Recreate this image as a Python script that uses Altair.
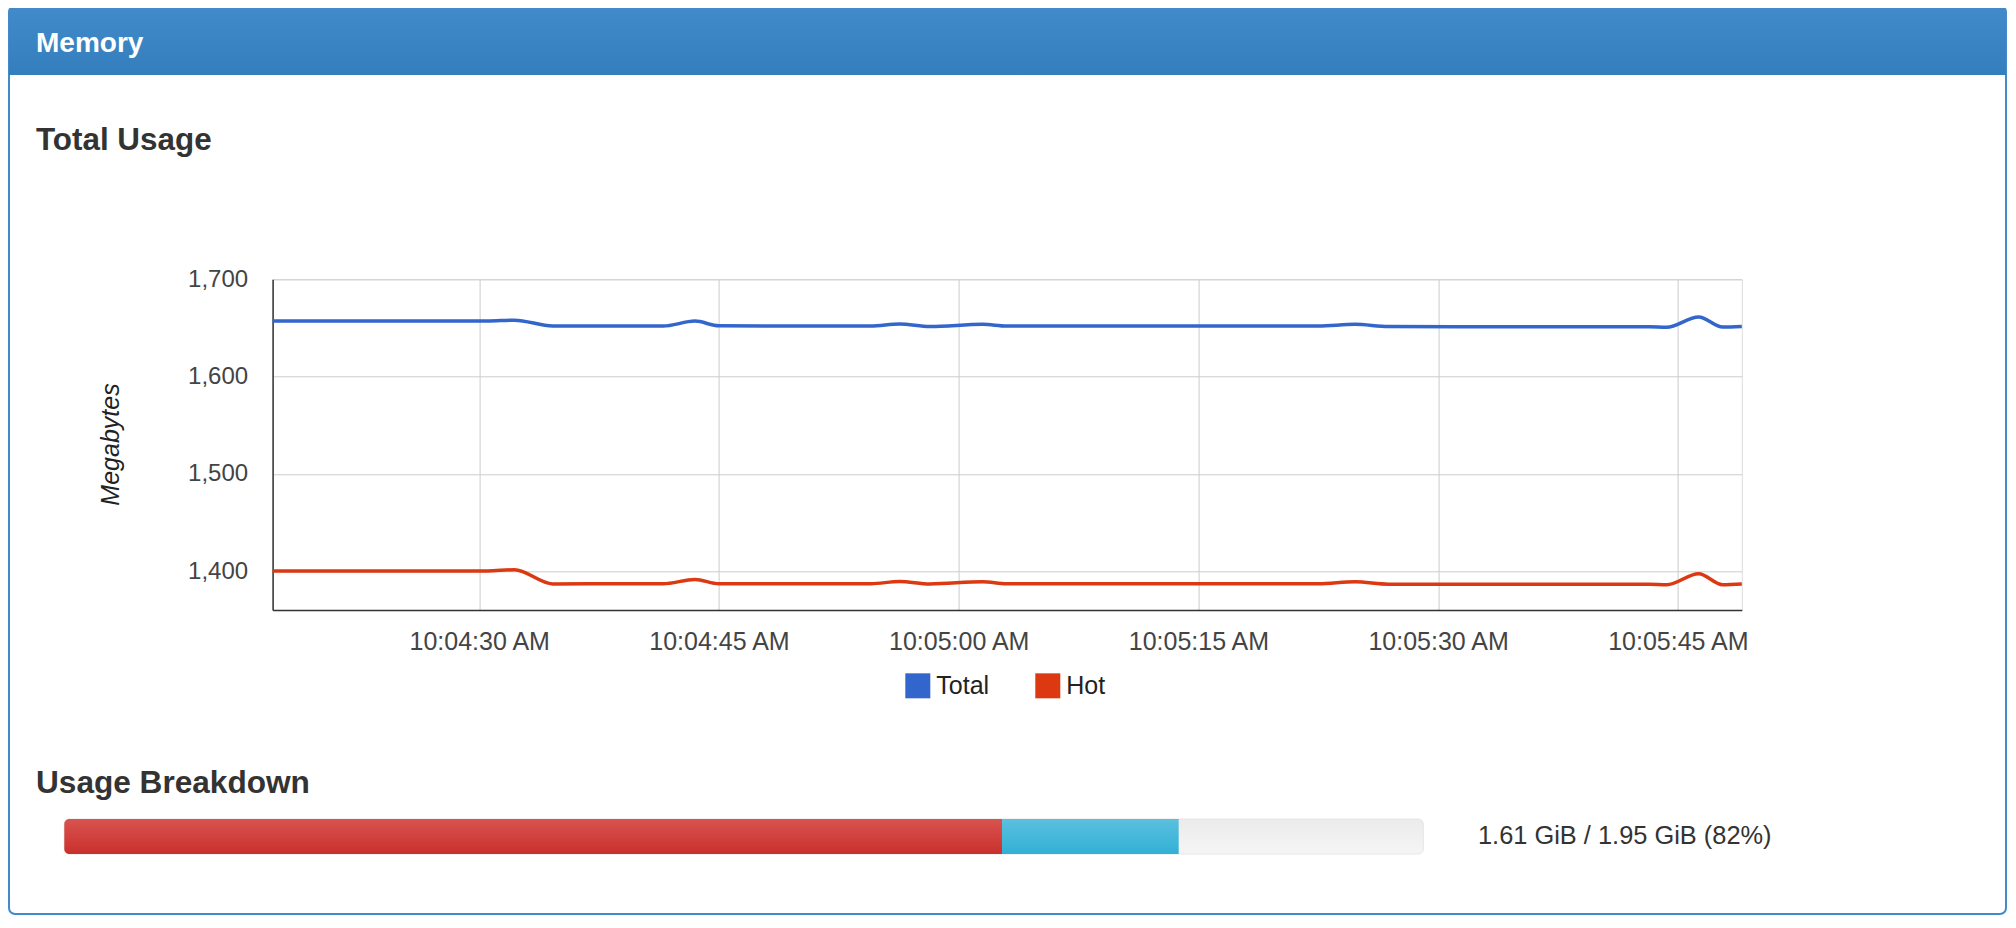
import altair as alt
import pandas as pd

# ---------------- data ----------------
# seconds after 10:04:00 AM
t_seconds = [17.07, 24.0, 30.5, 32.2, 34.6, 38.0, 41.5, 43.5, 45.0, 50.0, 54.5, 56.3, 58.2,
             61.5, 63.0, 70.0, 78.0, 82.5, 84.8, 86.9, 95.0, 103.2, 104.3, 106.3, 107.8, 109.0]
total_mb = [1657.1, 1657.1, 1657.1, 1658.0, 1652.0, 1652.1, 1651.9, 1657.0, 1652.2, 1652.0, 1652.0,
            1654.0, 1651.4, 1653.7, 1652.0, 1652.0, 1652.0, 1652.0, 1653.7, 1651.4, 1651.3, 1651.2,
            1650.6, 1661.2, 1650.9, 1651.5]
hot_mb = [1400.0, 1400.0, 1400.1, 1401.4, 1386.8, 1387.0, 1386.9, 1391.4, 1387.0, 1387.0, 1387.0,
          1389.3, 1386.8, 1389.0, 1387.0, 1387.0, 1387.0, 1387.0, 1389.0, 1386.6, 1386.6, 1386.5,
          1386.0, 1397.3, 1386.0, 1386.7]
series_names = ["Total", "Hot"]
series_colors = ["#3366cc", "#dc3912"]
y_ticks = [1400, 1500, 1600, 1700]
y_domain = [1360, 1700]
x_tick_seconds = [30, 45, 60, 75, 90, 105]

breakdown_names = ["Hot", "Other"]
breakdown_pct = [69.0, 13.0]
usage_text = ["1.61 GiB / 1.95 GiB (82%)"]

panel_title = "Memory"
chart_title = "Total Usage"
breakdown_title = "Usage Breakdown"
y_title = "Megabytes"

FONT = "Liberation Sans"

# ---------------- helpers ----------------
def iso(sec):
    ms = int(round(sec * 1000))
    m, rest = divmod(ms, 60000)
    s, milli = divmod(rest, 1000)
    return f"2016-01-01T10:{4 + m:02d}:{s:02d}.{milli:03d}"


def dt(sec):
    ms = int(round(sec * 1000))
    m, rest = divmod(ms, 60000)
    s, milli = divmod(rest, 1000)
    return alt.DateTime(year=2016, month=1, date=1, hours=10, minutes=4 + m,
                        seconds=s, milliseconds=milli)


# plot area origin in page pixels and size
OX, OY = 272.6, 279.3
W, H = 1469.2, 330.7


def rx(p):
    return p - OX


def ry(p):
    return p - OY


one = pd.DataFrame({"k": [0]})


def box(x0, y0, x1, y1, **mk):
    return alt.Chart(one).mark_rect(**mk).encode(
        x=alt.value(rx(x0)), x2=alt.value(rx(x1)),
        y=alt.value(ry(y0)), y2=alt.value(ry(y1)))


def label(x, y, text, **mk):
    return alt.Chart(one).mark_text(text=text, align="left", baseline="alphabetic",
                                    font=FONT, **mk).encode(
        x=alt.value(rx(x)), y=alt.value(ry(y)))


def grad(c0, c1):
    return alt.LinearGradient(gradient="linear",
                              stops=[alt.GradientStop(color=c0, offset=0),
                                     alt.GradientStop(color=c1, offset=1)],
                              x1=0, x2=0, y1=0, y2=1)


# ---------------- decorations (panel) ----------------
panel = box(9, 6, 2006, 914, fill="white", fillOpacity=0, stroke="#428bca",
            strokeWidth=2, cornerRadius=6)
header = box(9, 6, 2006, 75, fill=grad("#428bca", "#357ebd"),
             cornerRadiusTopLeft=6, cornerRadiusTopRight=6)
t_header = label(36, 52.5, panel_title, fontSize=28, fontWeight="bold", color="white")
t_total = label(36, 150.5, chart_title, fontSize=31.4, fontWeight="bold", color="#333333")
t_break = label(36, 793, breakdown_title, fontSize=31.6, fontWeight="bold", color="#333333")

# ---------------- line chart ----------------
line_df = pd.DataFrame({
    "time": [iso(s) for s in t_seconds] * 2,
    "series": [series_names[0]] * len(t_seconds) + [series_names[1]] * len(t_seconds),
    "mb": total_mb + hot_mb,
})

lines = alt.Chart(line_df).mark_line(interpolate="monotone", strokeWidth=3.5).encode(
    x=alt.X("time:T",
            scale=alt.Scale(domain=[dt(t_seconds[0]), dt(t_seconds[-1])]),
            axis=alt.Axis(values=[dt(s) for s in x_tick_seconds], format="%-I:%M:%S %p",
                          title=None, grid=True, gridColor="#cccccc", gridWidth=1,
                          ticks=False, tickSize=0, labelPadding=39, labelBaseline="alphabetic",
                          labelFontSize=25, labelColor="#444444", labelFont=FONT,
                          labelFlush=False, labelOverlap=False, labelBound=False,
                          domainColor="#333333", domainWidth=1.5)),
    y=alt.Y("mb:Q",
            scale=alt.Scale(domain=y_domain, nice=False, zero=False),
            axis=alt.Axis(values=y_ticks, format=",d", title=y_title,
                          grid=True, gridColor="#cccccc", gridWidth=1,
                          ticks=False, tickSize=0, labelPadding=25,
                          labelFontSize=24, labelColor="#444444", labelFont=FONT,
                          domainColor="#333333", domainWidth=1.5,
                          titleX=rx(118.5), titleY=ry(444), titleAngle=270,
                          titleAlign="center", titleBaseline="alphabetic",
                          titleFont=FONT, titleFontSize=25, titleFontStyle="italic",
                          titleFontWeight="normal", titleColor="#222222")),
    color=alt.Color("series:N",
                    scale=alt.Scale(domain=series_names, range=series_colors),
                    legend=alt.Legend(orient="none", legendX=rx(905.3), legendY=ry(673.2),
                                      direction="horizontal", title=None,
                                      symbolType="square", symbolSize=156.25,
                                      symbolStrokeWidth=12.5, labelFontSize=25,
                                      labelFont=FONT, labelColor="#222222",
                                      labelOffset=6, columnPadding=27, padding=0)),
)

# ---------------- usage breakdown bar ----------------
starts, ends, acc = [], [], 0.0
for v in breakdown_pct:
    starts.append(acc)
    acc += v
    ends.append(acc)
bar_df = pd.DataFrame({"part": breakdown_names, "start": starts, "end": ends})

BAR_X0, BAR_X1, BAR_Y0, BAR_Y1 = 64.3, 1423.3, 819, 854

track = box(BAR_X0, BAR_Y0, BAR_X1, BAR_Y1, fill=grad("#ebebeb", "#f5f5f5"),
            cornerRadius=5, stroke="#e6e6e6", strokeWidth=1)


def segment(name, c0, c1, **corners):
    return alt.Chart(bar_df).transform_filter(alt.datum.part == name).mark_rect(
        fill=grad(c0, c1), **corners).encode(
        x=alt.X("start:Q", scale=alt.Scale(domain=[0, 100], range=[rx(BAR_X0), rx(BAR_X1)]),
                axis=None),
        x2="end:Q",
        y=alt.value(ry(BAR_Y0)), y2=alt.value(ry(BAR_Y1)))


seg_hot = segment(breakdown_names[0], "#d9534f", "#c9302c",
                  cornerRadiusTopLeft=5, cornerRadiusBottomLeft=5)
seg_other = segment(breakdown_names[1], "#5bc0de", "#31b0d5")

usage = alt.Chart(pd.DataFrame({"txt": usage_text})).mark_text(
    align="left", baseline="alphabetic", font=FONT, fontSize=25.4, color="#333333").encode(
    text="txt:N", x=alt.value(rx(1478)), y=alt.value(ry(844)))

chart = alt.layer(
    panel, header, t_header, t_total, t_break,
    lines, track, seg_hot, seg_other, usage
).resolve_scale(x="independent").properties(
    width=W, height=H,
    autosize=alt.AutoSizeParams(type="none"),
    padding={"left": OX - 8, "top": OY - 8, "right": 1999 - (OX - 8) - W,
             "bottom": 908 - (OY - 8) - H},
).configure_view(stroke=None).configure(font=FONT)

chart.save("out.html", embed_options={"renderer": "svg", "actions": False})
